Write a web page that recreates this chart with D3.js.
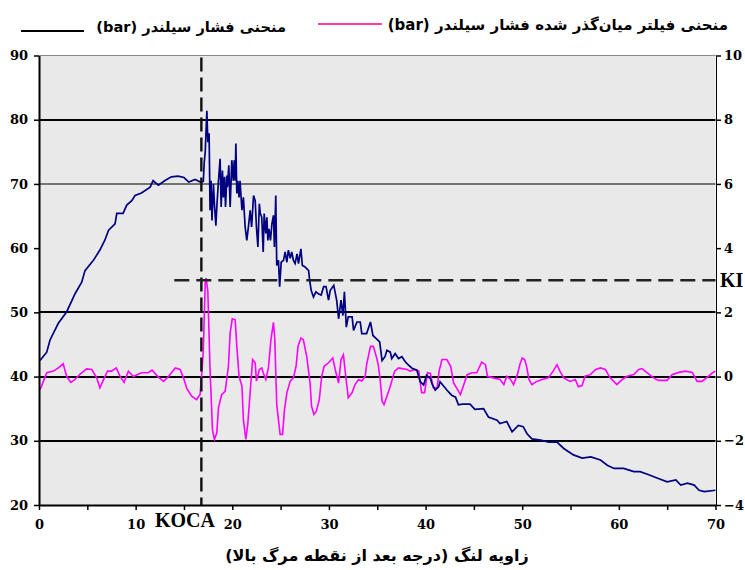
<!DOCTYPE html>
<html>
<head>
<meta charset="utf-8">
<script src="https://cdn.jsdelivr.net/npm/d3@7"></script>
<style>
body{margin:0;background:#fff;}
svg{display:block;}
.axis .tick text{font-family:'DejaVu Serif';font-weight:bold;font-size:13px;fill:#000;}
.axis .tick line{stroke:#000;stroke-width:1.5;}
.fa{font-family:'DejaVu Sans';font-weight:bold;fill:#000;}
.lbl{font-family:'Liberation Serif';font-weight:bold;font-size:20px;fill:#000;}
</style>
</head>
<body>
<div id="chart"></div>
<script>
// فشار سیلندر - left axis (bar)
const pressureAngle = [0.1,0.8,1.14,2.0,2.87,3.73,4.42,4.76,5.63,6.3,6.8,7.2,7.87,8.05,8.7,9.08,9.6,9.94,10.6,11.5,11.8,12.35,13.0,13.7,14.4,15.0,15.5,16.15,16.7,17.0,
  17.1,17.2,17.37,17.47,17.6,17.7,17.8,17.9,18.05,18.15,18.3,18.4,18.57,18.74,18.85,18.98,19.08,19.2,19.3,19.44,19.5,19.64,19.78,19.95,20.1,20.2,20.3,20.37,20.47,20.57,20.7,20.8,
  21.0,21.15,21.33,21.5,21.67,21.85,22.0,22.2,22.37,22.5,22.65,22.8,22.9,23.05,23.2,23.3,23.47,23.58,23.68,23.8,23.95,24.1,24.26,24.36,24.5,24.6,24.78,24.9,
  25.06,25.3,25.47,25.65,25.8,26.0,26.15,26.33,26.5,26.7,26.85,27.1,27.25,27.5,27.7,27.9,28.0,28.17,28.4,28.65,28.9,29.2,29.45,29.7,29.96,30.13,30.5,30.8,
  31.0,31.25,31.45,31.6,31.8,32.0,32.4,32.55,32.9,33.24,33.4,33.9,34.3,34.55,34.9,35.25,35.5,35.8,36.0,36.35,36.5,36.85,37.2,37.55,37.9,38.24,38.6,39.1,
  39.45,39.8,40.1,40.5,40.66,41.0,41.35,41.5,42.2,42.7,43.1,43.4,43.8,44.6,45.1,46.0,46.5,47.4,47.7,48.4,48.95,49.6,50.1,50.5,51.0,51.9,52.75,53.6,54.3,
  55.3,56.2,57.1,58.1,58.8,59.5,60.5,61.55,62.2,63.1,63.95,65.0,65.9,66.4,67.1,67.8,68.3,68.85,70.0];
const pressureValue = [42.5,43.8,45.7,48.3,50.1,52.9,54.7,56.5,58.1,59.7,61.2,62.8,63.8,65.4,65.4,66.7,67.4,68.2,68.6,69.5,70.5,69.8,70.5,71.1,71.2,71.0,70.3,70.7,70.3,70.4,
  73.4,75.0,81.4,76.5,77.9,65.9,70.5,64.3,70.0,66.9,63.5,66.4,70.5,73.9,66.4,72.1,67.9,71.1,66.4,71.3,69.5,72.9,66.4,73.7,70.5,73.7,70.5,76.3,68.5,70.5,67.9,70.5,
  65.9,67.9,63.3,61.2,63.3,65.9,63.3,68.2,67.4,63.3,60.2,66.9,65.4,64.8,59.4,65.4,62.3,64.8,61.2,63.0,61.2,63.8,65.1,60.2,68.2,57.3,58.1,54.0,
  57.8,58.1,59.4,57.8,59.7,58.4,59.4,58.1,57.6,59.1,57.6,59.9,57.3,57.1,56.8,56.5,55.0,53.4,52.4,53.2,52.9,52.7,54.0,54.0,51.9,53.4,54.2,51.9,
  49.0,51.9,49.5,53.2,47.7,49.3,49.3,47.2,48.5,48.5,46.7,46.7,48.5,46.4,45.9,45.4,42.5,43.1,44.1,43.8,42.8,43.6,42.8,43.1,42.3,41.8,41.3,41.0,
  39.2,38.7,40.2,39.7,38.9,37.9,38.4,39.2,37.9,37.1,36.8,35.6,35.7,35.7,34.9,35.0,33.7,33.2,32.7,33.0,31.4,32.4,32.2,31.1,30.3,30.1,29.8,29.8,28.8,
  27.8,27.3,27.5,27.0,26.2,25.7,25.7,25.2,25.2,24.7,24.2,23.6,23.9,23.1,23.4,23.1,22.3,22.1,22.3];

// فیلتر میان‌گذر - right axis (bar)
const filterAngle = [0.05,0.2,0.45,0.8,1.5,2.0,2.5,2.87,3.3,3.73,4.25,4.94,5.46,5.97,6.3,6.76,7.1,7.5,8.0,8.4,8.8,9.25,9.77,10.6,11.3,11.7,12.3,12.9,13.4,14.1,14.6,14.95,
  15.3,15.8,16.3,16.67,16.85,17.0,17.2,17.3,17.47,17.7,17.95,18.15,18.4,18.57,18.9,19.26,19.6,19.78,20.0,20.3,20.47,20.7,21.0,21.15,21.4,21.6,21.85,22.1,22.37,22.5,
  22.8,23.05,23.2,23.47,23.74,24.0,24.26,24.4,24.6,24.95,25.2,25.4,25.65,26.0,26.33,26.6,26.8,27.1,27.35,27.7,28.05,28.2,28.45,28.7,29.0,29.25,29.5,29.96,
  30.4,30.65,31.0,31.25,31.5,31.7,32.0,32.4,32.7,33.07,33.4,33.75,33.9,34.3,34.6,34.9,35.1,35.3,35.5,35.7,36.0,36.35,36.8,37.2,37.7,38.1,38.4,38.9,39.3,
  39.45,39.6,39.9,40.2,40.5,40.8,41.2,41.4,41.7,42.2,42.6,42.9,43.3,43.6,43.9,44.3,44.8,45.3,45.8,46.2,46.4,47.0,47.7,48.1,48.4,48.8,49.1,49.5,49.75,
  50.0,50.25,50.45,50.7,51.0,51.5,52.05,52.7,53.2,53.6,53.9,54.3,54.95,55.5,55.8,56.2,56.5,57.05,57.6,58.1,58.6,59.1,59.8,60.35,60.85,61.55,62.05,62.4,
  62.9,63.6,64.1,65.0,65.5,66.2,66.9,67.6,68.1,68.6,69.2,69.7,70.0];
const filterValue = [-0.4,-0.35,-0.15,0.12,0.17,0.27,0.4,0.0,-0.18,-0.09,0.08,0.24,0.22,-0.04,-0.35,-0.04,0.17,0.17,0.27,0.0,-0.18,0.17,0.0,0.12,0.12,0.2,0.0,-0.15,0.0,0.27,0.22,-0.04,
  -0.38,-0.61,-0.72,-0.56,0.12,0.79,2.92,3.07,2.65,0.22,-1.65,-1.96,-1.75,-0.97,-0.56,-0.46,0.32,1.36,1.8,1.77,0.94,0.01,-0.3,-1.34,-1.96,-1.49,-0.5,0.53,0.43,-0.14,
  0.22,0.27,0.12,-0.09,0.27,1.15,1.69,1.15,-0.87,-1.8,-1.8,-1.03,-0.5,-0.14,-0.04,0.32,0.94,1.2,1.15,0.63,-0.2,-0.92,-1.18,-1.08,-0.72,0.0,0.32,0.43,
  0.58,0.22,-0.2,0.53,0.68,0.12,-0.66,-0.5,-0.25,-0.09,-0.14,0.0,0.37,0.94,0.94,0.63,0.37,-0.09,-0.77,-0.87,-0.61,-0.3,0.17,0.27,0.24,0.22,0.17,0.22,0.17,
  -0.2,-0.5,-0.5,0.12,0.1,-0.35,-0.35,0.17,0.53,0.53,0.32,-0.2,-0.4,-0.56,-0.3,0.06,0.12,0.12,0.45,0.37,0.01,-0.04,-0.09,-0.25,0.01,-0.09,-0.25,0.06,0.37,
  0.58,0.53,0.32,-0.09,-0.25,-0.15,-0.09,-0.04,0.17,0.37,0.17,-0.04,-0.15,-0.09,-0.32,-0.28,0.01,0.06,0.22,0.27,0.22,-0.04,-0.25,-0.09,0.01,0.06,0.22,0.25,
  0.12,-0.04,-0.12,-0.12,0.06,0.13,0.17,0.13,-0.15,-0.15,-0.01,0.12,0.17];

const xTicks = d3.range(0, 71, 5);
const leftTicks = [20,30,40,50,60,70,80,90];
const rightTicks = [-4,-2,0,2,4,6,8,10];
const gridLeft = [80,70,50,40,30];       // horizontal rules (left axis units)
const kocaAngle = 16.8;                  // KOCA marker
const kiLevel = 3, kiFrom = 14;          // KI threshold (right axis units)

const legendPressure = 'منحنی فشار سیلندر (bar)';
const legendFilter = 'منحنی فیلتر میان‌گذر شده  فشار سیلندر (bar)';
const xTitle = 'زاویه لنگ (درجه بعد از نقطه مرگ بالا)';

const W = 745, H = 570;
const svg = d3.select('#chart').append('svg').attr('width', W).attr('height', H);

const x = d3.scaleLinear().domain([0,70]).range([39,715.5]);
const yL = d3.scaleLinear().domain([20,90]).range([505,55.5]);
const yR = d3.scaleLinear().domain([-4,10]).range([505,55.5]);

// plot background
svg.append('rect').attr('x', x(0)).attr('y', yL(90))
   .attr('width', x(70)-x(0)).attr('height', yL(20)-yL(90)).attr('fill', '#e9e9e9');
svg.append('line').attr('x1', x(0)).attr('x2', x(70)).attr('y1', yL(90)).attr('y2', yL(90))
   .attr('stroke', '#8a8a8a').attr('stroke-width', 1);

// rules
svg.append('g').selectAll('line').data(gridLeft).join('line')
   .attr('x1', x(0)).attr('x2', x(70))
   .attr('y1', d => Math.round(yL(d))).attr('y2', d => Math.round(yL(d)))
   .attr('stroke', '#000').attr('stroke-width', d => d == 70 ? 1.2 : 2.2);

// curves
const pressure = pressureAngle.map((a,i) => [a, pressureValue[i]]);
const filtered = filterAngle.map((a,i) => [a, filterValue[i]]);

svg.append('path').datum(filtered)
   .attr('d', d3.line().x(d => x(d[0])).y(d => yR(d[1])))
   .attr('fill', 'none').attr('stroke', '#ff00ff').attr('stroke-width', 1.6);
svg.append('path').datum(pressure)
   .attr('d', d3.line().x(d => x(d[0])).y(d => yL(d[1])))
   .attr('fill', 'none').attr('stroke', '#000080').attr('stroke-width', 1.7);

// KOCA / KI markers
svg.append('line').attr('x1', x(kocaAngle)).attr('x2', x(kocaAngle))
   .attr('y1', yL(90)+2).attr('y2', yL(20))
   .attr('stroke', '#111').attr('stroke-width', 2.4).attr('stroke-dasharray', '14,6');
svg.append('line').attr('x1', x(kiFrom)).attr('x2', x(70))
   .attr('y1', yR(kiLevel)).attr('y2', yR(kiLevel))
   .attr('stroke', '#222').attr('stroke-width', 2.4).attr('stroke-dasharray', '15,7');
svg.append('text').attr('class', 'lbl').attr('x', 155).attr('y', 527).text('KOCA');
svg.append('text').attr('class', 'lbl').attr('x', 720).attr('y', yR(kiLevel)+7).text('KI');

// axes
const fmt = d3.format('d');
const gx = svg.append('g').attr('class', 'axis').attr('transform', `translate(0,${yL(20)})`)
   .call(d3.axisBottom(x).tickValues(xTicks).tickFormat(d => d % 10 == 0 ? fmt(d) : '')
         .tickSize(5).tickSizeOuter(0).tickPadding(10));
gx.select('.domain').attr('stroke', '#000').attr('stroke-width', 2);

const gl = svg.append('g').attr('class', 'axis').attr('transform', `translate(${x(0)},0)`)
   .call(d3.axisLeft(yL).tickValues(leftTicks).tickFormat(fmt).tickSize(5).tickSizeOuter(0).tickPadding(6));
gl.select('.domain').attr('stroke', '#000').attr('stroke-width', 2);

const gr = svg.append('g').attr('class', 'axis').attr('transform', `translate(${x(70)+0.5},0)`)
   .call(d3.axisRight(yR).tickValues(rightTicks).tickFormat(fmt).tickSize(5).tickSizeOuter(0).tickPadding(3));
gr.select('.domain').attr('stroke', '#000').attr('stroke-width', 1);

// legend
svg.append('line').attr('x1', 21).attr('x2', 84).attr('y1', 31).attr('y2', 31)
   .attr('stroke', '#000').attr('stroke-width', 2);
svg.append('text').attr('class', 'fa').attr('x', 286).attr('y', 32)
   .attr('direction', 'rtl').attr('text-anchor', 'start').style('font-size', '14.6px')
   .text(legendPressure);
svg.append('line').attr('x1', 318).attr('x2', 382).attr('y1', 24).attr('y2', 24)
   .attr('stroke', '#ff40a0').attr('stroke-width', 2);
svg.append('text').attr('class', 'fa').attr('x', 728).attr('y', 30)
   .attr('direction', 'rtl').attr('text-anchor', 'start').style('font-size', '15px')
   .text(legendFilter);

// x title
svg.append('text').attr('class', 'fa').attr('x', 377).attr('y', 561)
   .attr('direction', 'rtl').attr('text-anchor', 'middle').style('font-size', '16px')
   .text(xTitle);
</script>
</body>
</html>
